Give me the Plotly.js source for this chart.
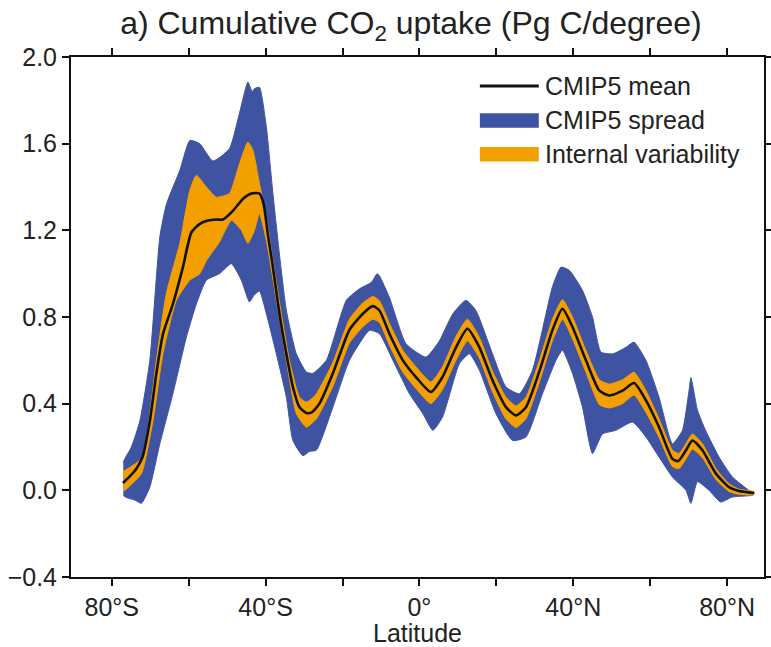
<!DOCTYPE html>
<html>
<head>
<meta charset="utf-8">
<script src="https://cdn.plot.ly/plotly-3.0.1.min.js"></script>
<style>
  html, body { margin: 0; padding: 0; background: #fff; }
  #chart { width: 771px; height: 647px; }
</style>
</head>
<body>
<div id="chart"></div>
<script>
// Cumulative CO2 uptake per degree of latitude (Pg C/degree)

// CMIP5 multi-model mean
const meanLat = [-77.1, -75.0, -73.6, -72.0, -70.1, -68.4, -66.7, -64.1, -61.5, -59.3, -57.1, -55.0, -52.8, -51.1, -48.5, -45.9, -43.7, -41.6, -40.5, -39.4, -38.1, -36.4, -34.6, -32.9, -31.2, -29.4, -28.0, -26.0, -22.5, -18.2, -14.7, -12.1, -10.4, -7.8, -4.3, -0.9, 3.0, 6.0, 9.5, 12.5, 15.6, 19.0, 22.5, 25.1, 27.7, 31.2, 34.6, 37.2, 39.8, 43.3, 46.8, 49.4, 52.8, 55.8, 58.9, 62.3, 65.8, 67.3, 69.3, 71.0, 73.6, 77.1, 80.5, 83.1, 87.0];
const meanVal = [0.034, 0.07, 0.10, 0.154, 0.32, 0.54, 0.72, 0.86, 1.03, 1.19, 1.23, 1.245, 1.25, 1.25, 1.29, 1.345, 1.37, 1.37, 1.32, 1.18, 1.03, 0.815, 0.63, 0.477, 0.384, 0.357, 0.36, 0.40, 0.54, 0.74, 0.815, 0.85, 0.83, 0.723, 0.60, 0.523, 0.454, 0.523, 0.66, 0.746, 0.66, 0.508, 0.384, 0.346, 0.384, 0.55, 0.74, 0.838, 0.754, 0.60, 0.46, 0.438, 0.46, 0.495, 0.415, 0.292, 0.145, 0.135, 0.185, 0.23, 0.185, 0.077, 0.015, -0.003, -0.012];

// CMIP5 model spread (upper and lower edges)
const spreadHiLat = [-77.0, -76.6, -74.9, -72.7, -70.1, -67.5, -65.8, -62.3, -59.7, -57.1, -53.7, -49.4, -46.8, -44.6, -43.5, -42.9, -41.6, -39.8, -38.1, -36.4, -34.6, -32.0, -29.4, -27.7, -24.2, -19.0, -15.6, -12.5, -11.0, -10.4, -7.8, -3.5, 1.7, 5.2, 8.7, 12.1, 14.7, 19.0, 22.5, 26.0, 29.4, 34.6, 36.8, 39.0, 42.4, 45.0, 47.2, 50.3, 53.7, 55.8, 58.9, 62.3, 65.8, 68.4, 70.1, 70.6, 72.3, 74.4, 77.9, 81.4, 85.7, 87.0];
const spreadHi = [0.13, 0.146, 0.20, 0.32, 0.60, 1.17, 1.32, 1.477, 1.615, 1.60, 1.52, 1.577, 1.74, 1.885, 1.84, 1.854, 1.86, 1.677, 1.37, 1.09, 0.83, 0.63, 0.546, 0.54, 0.60, 0.877, 0.93, 0.96, 1.0, 0.99, 0.89, 0.677, 0.615, 0.69, 0.815, 0.877, 0.83, 0.63, 0.477, 0.446, 0.554, 0.94, 1.03, 1.015, 0.923, 0.80, 0.638, 0.63, 0.66, 0.684, 0.60, 0.43, 0.215, 0.277, 0.46, 0.52, 0.37, 0.277, 0.154, 0.061, 0.0, -0.012];
const spreadLoLat = [-77.0, -76.6, -74.0, -72.3, -70.1, -67.5, -64.1, -60.6, -58.0, -55.4, -52.0, -48.9, -46.3, -44.2, -43.0, -41.6, -39.8, -37.2, -34.6, -32.9, -30.3, -28.5, -26.8, -22.5, -18.2, -13.0, -10.4, -6.9, -2.6, 0.9, 3.5, 6.0, 10.4, 13.0, 15.6, 19.9, 24.2, 27.7, 32.0, 35.5, 37.2, 39.8, 42.4, 45.0, 47.6, 51.1, 55.4, 58.9, 62.3, 65.8, 69.3, 70.6, 72.3, 75.3, 78.3, 81.4, 86.6, 87.0];
const spreadLo = [-0.02, -0.03, -0.045, -0.06, 0.015, 0.215, 0.446, 0.707, 0.86, 0.97, 1.0, 1.046, 0.97, 0.87, 0.90, 0.92, 0.815, 0.63, 0.43, 0.23, 0.16, 0.18, 0.185, 0.384, 0.60, 0.738, 0.723, 0.60, 0.446, 0.354, 0.277, 0.338, 0.585, 0.63, 0.554, 0.354, 0.23, 0.246, 0.446, 0.60, 0.646, 0.54, 0.384, 0.17, 0.26, 0.277, 0.315, 0.246, 0.154, 0.061, 0.0, -0.06, 0.04, 0.0, -0.054, -0.031, -0.023, -0.018];

// Internal variability range (upper and lower edges)
const ivHiLat = [-77.0, -76.6, -72.3, -70.5, -68.4, -65.8, -62.3, -59.7, -58.0, -55.4, -52.8, -49.4, -46.8, -44.6, -43.3, -41.6, -39.8, -38.1, -35.9, -33.8, -31.2, -29.4, -27.0, -22.5, -18.2, -14.7, -12.1, -10.4, -7.8, -4.3, -0.9, 3.0, 6.0, 9.5, 12.5, 15.6, 19.0, 22.5, 25.1, 27.7, 31.2, 34.6, 37.2, 39.8, 43.3, 46.8, 49.4, 52.8, 55.8, 58.9, 62.3, 65.8, 67.5, 69.3, 71.0, 73.6, 77.1, 80.5, 83.1, 87.0];
const ivHi = [0.09, 0.092, 0.146, 0.30, 0.60, 0.91, 1.14, 1.385, 1.454, 1.40, 1.353, 1.37, 1.507, 1.607, 1.57, 1.415, 1.26, 1.06, 0.815, 0.60, 0.43, 0.407, 0.44, 0.59, 0.79, 0.865, 0.895, 0.875, 0.77, 0.645, 0.57, 0.50, 0.57, 0.71, 0.79, 0.705, 0.55, 0.43, 0.39, 0.43, 0.60, 0.79, 0.88, 0.80, 0.645, 0.51, 0.49, 0.51, 0.545, 0.46, 0.33, 0.185, 0.17, 0.215, 0.26, 0.215, 0.10, 0.03, 0.005, -0.006];
const ivLoLat = [-77.0, -76.6, -72.3, -69.3, -66.7, -63.2, -59.7, -57.1, -55.4, -52.0, -48.9, -46.3, -44.6, -42.9, -41.6, -39.8, -37.2, -34.6, -32.0, -29.4, -26.8, -22.5, -18.2, -14.7, -12.1, -10.4, -7.8, -4.3, -0.9, 3.0, 6.0, 9.5, 12.5, 15.6, 19.0, 22.5, 25.1, 27.7, 31.2, 34.6, 37.2, 39.8, 43.3, 46.8, 49.4, 52.8, 55.8, 58.9, 62.3, 65.8, 67.5, 69.3, 71.0, 73.6, 77.1, 80.5, 83.1, 87.0];
const ivLo = [-0.005, 0.0, 0.077, 0.32, 0.63, 0.877, 0.97, 1.0, 1.06, 1.146, 1.246, 1.2, 1.14, 1.2, 1.277, 1.154, 0.877, 0.60, 0.354, 0.292, 0.33, 0.48, 0.68, 0.755, 0.79, 0.775, 0.67, 0.545, 0.47, 0.40, 0.465, 0.60, 0.69, 0.61, 0.455, 0.33, 0.29, 0.33, 0.50, 0.69, 0.79, 0.70, 0.545, 0.395, 0.38, 0.40, 0.44, 0.36, 0.245, 0.11, 0.10, 0.145, 0.19, 0.15, 0.05, -0.005, -0.018, -0.02];

// Axis ticks: labelled every 40 degrees, unlabelled ticks in between
const xTickVals = [-80, -40, 0, 40, 80];
const xTickText = ['80°S', '40°S', '0°', '40°N', '80°N'];
const xMinorVals = [-60, -20, 20, 60];
const yTickVals = [-0.4, 0.0, 0.4, 0.8, 1.2, 1.6, 2.0];

const legendLabels = ['CMIP5 mean', 'CMIP5 spread', 'Internal variability'];

const BLUE = '#3f53a3';
const ORANGE = '#f39f00';
const FONT = '"Liberation Sans", Arial, Helvetica, sans-serif';
const TEXT = '#222222';

// closed band outline: upper edge left-to-right, lower edge back right-to-left
function band(hiLat, hi, loLat, lo) {
  return {
    x: hiLat.concat(loLat.slice().reverse()),
    y: hi.concat(lo.slice().reverse())
  };
}

const spreadBand = band(spreadHiLat, spreadHi, spreadLoLat, spreadLo);
const ivBand = band(ivHiLat, ivHi, ivLoLat, ivLo);

const traces = [
  {
    x: spreadBand.x, y: spreadBand.y, type: 'scatter', mode: 'lines',
    fill: 'toself', fillcolor: BLUE, line: { color: BLUE, width: 1, shape: 'spline', smoothing: 0.5 },
    hoverinfo: 'skip', showlegend: false
  },
  {
    x: ivBand.x, y: ivBand.y, type: 'scatter', mode: 'lines',
    fill: 'toself', fillcolor: ORANGE, line: { color: ORANGE, width: 1, shape: 'spline', smoothing: 0.5 },
    hoverinfo: 'skip', showlegend: false
  },
  {
    x: meanLat, y: meanVal, type: 'scatter', mode: 'lines',
    line: { color: '#111111', width: 2.6, shape: 'spline', smoothing: 0.6 },
    showlegend: false
  }
];

// Legend drawn in paper space at the upper right of the plot
const legX0 = 0.59, legX1 = 0.675;
const legRows = [0.944, 0.878, 0.813];
const shapes = [
  { type: 'line', xref: 'paper', yref: 'paper', x0: legX0, x1: legX1, y0: legRows[0], y1: legRows[0],
    line: { color: '#111111', width: 3 } },
  { type: 'rect', xref: 'paper', yref: 'paper', x0: legX0, x1: legX1, y0: legRows[1] - 0.014, y1: legRows[1] + 0.014,
    fillcolor: BLUE, line: { width: 0 } },
  { type: 'rect', xref: 'paper', yref: 'paper', x0: legX0, x1: legX1, y0: legRows[2] - 0.014, y1: legRows[2] + 0.014,
    fillcolor: ORANGE, line: { width: 0 } }
];
const annotations = legendLabels.map((t, i) => ({
  text: t, xref: 'paper', yref: 'paper', x: legX1 + 0.006, y: legRows[i],
  xanchor: 'left', yanchor: 'middle', showarrow: false,
  font: { family: FONT, size: 25, color: TEXT }
}));

const layout = {
  width: 771, height: 647,
  margin: { l: 71, r: 7, t: 57, b: 70 },
  paper_bgcolor: '#ffffff', plot_bgcolor: '#ffffff',
  font: { family: FONT, size: 25, color: TEXT },
  title: {
    text: 'a) Cumulative CO<sub>2</sub> uptake (Pg C/degree)',
    font: { family: FONT, size: 32, color: TEXT },
    x: 0.533, xanchor: 'center', y: 0.964, yanchor: 'middle', yref: 'container'
  },
  xaxis: {
    range: [-90.6, 89.6], tickvals: xTickVals, ticktext: xTickText,
    ticks: 'outside', ticklen: 7, tickwidth: 2, tickcolor: '#111',
    minor: { tickvals: xMinorVals, ticks: 'outside', ticklen: 7, tickwidth: 2, tickcolor: '#111', showgrid: false },
    showline: true, linecolor: '#111', linewidth: 2, mirror: 'ticks',
    showgrid: false, zeroline: false,
    tickfont: { family: FONT, size: 25, color: TEXT },
    title: { text: 'Latitude', font: { family: FONT, size: 25, color: TEXT }, standoff: 3 }
  },
  yaxis: {
    range: [-0.4, 2.0], tickvals: yTickVals, tickformat: '.1f',
    ticks: 'outside', ticklen: 7, tickwidth: 2, tickcolor: '#111',
    showline: true, linecolor: '#111', linewidth: 2, mirror: 'ticks',
    showgrid: false, zeroline: false,
    tickfont: { family: FONT, size: 25, color: TEXT }
  },
  shapes: shapes,
  annotations: annotations,
  showlegend: false
};

Plotly.newPlot('chart', traces, layout, { displayModeBar: false, staticPlot: true });
</script>
</body>
</html>
